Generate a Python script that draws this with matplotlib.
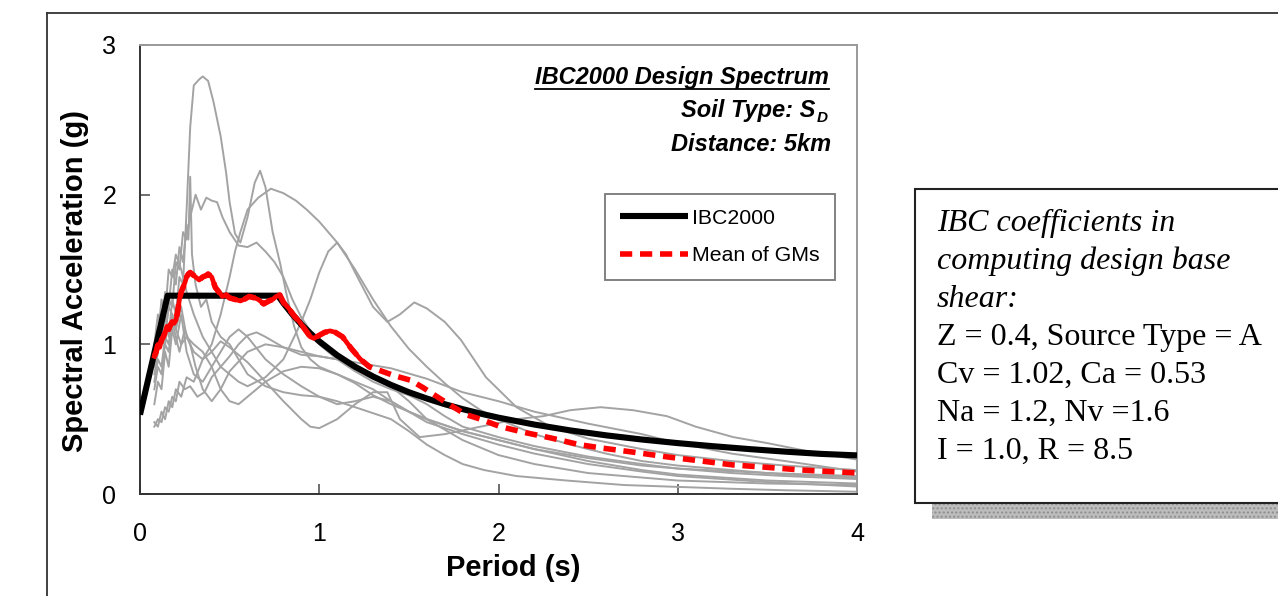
import matplotlib
matplotlib.use("Agg")
import matplotlib.pyplot as plt
from matplotlib.lines import Line2D
from matplotlib.patches import Rectangle

plt.rcParams['font.family'] = ['Liberation Sans', 'DejaVu Sans']

# ---------------- data ----------------
ibc_T = [0, 0.154, 0.77, 0.8, 0.85, 0.9, 0.95, 1.0, 1.1, 1.2, 1.3, 1.4, 1.5, 1.6, 1.7, 1.8,
         1.9, 2.0, 2.2, 2.4, 2.6, 2.8, 3.0, 3.2, 3.4, 3.6, 3.8, 4.0]
ibc_Sa = [0.53, 1.325, 1.325, 1.275, 1.20, 1.133, 1.074, 1.02, 0.927, 0.85, 0.785, 0.729, 0.68,
          0.638, 0.60, 0.567, 0.537, 0.51, 0.464, 0.425, 0.392, 0.364, 0.34, 0.319, 0.30, 0.283,
          0.268, 0.258]

mean_T = [0.08, 0.09, 0.10, 0.11, 0.12, 0.13, 0.14, 0.15, 0.16, 0.17, 0.18, 0.19, 0.20, 0.21,
          0.22, 0.23, 0.24, 0.25, 0.26, 0.27, 0.28, 0.30, 0.32, 0.33, 0.35, 0.37, 0.38, 0.40,
          0.42, 0.44, 0.46, 0.48, 0.50, 0.53, 0.56, 0.58, 0.61, 0.64, 0.66, 0.69, 0.72, 0.74,
          0.76, 0.78, 0.80, 0.83, 0.86, 0.89, 0.92, 0.95, 0.97, 1.00, 1.03, 1.06, 1.09, 1.13,
          1.18, 1.23, 1.28, 1.35, 1.42, 1.51, 1.58, 1.67, 1.75, 1.82, 1.90, 2.01, 2.15, 2.29,
          2.45, 2.57, 2.75, 2.94, 3.10, 3.31, 3.50, 3.68, 3.85, 4.0]
mean_Sa = [0.92, 0.95, 1.00, 0.98, 1.03, 1.05, 1.08, 1.12, 1.10, 1.13, 1.15, 1.14, 1.16, 1.22,
           1.30, 1.35, 1.38, 1.41, 1.45, 1.47, 1.48, 1.46, 1.44, 1.43, 1.45, 1.46, 1.47, 1.45,
           1.38, 1.35, 1.32, 1.33, 1.31, 1.30, 1.29, 1.30, 1.32, 1.31, 1.30, 1.27, 1.29, 1.30,
           1.32, 1.33, 1.28, 1.24, 1.19, 1.15, 1.10, 1.05, 1.04, 1.06, 1.08, 1.09, 1.08, 1.05,
           0.97, 0.90, 0.85, 0.82, 0.79, 0.76, 0.71, 0.64, 0.58, 0.53, 0.50, 0.45, 0.41, 0.375,
           0.33, 0.308, 0.28, 0.248, 0.225, 0.194, 0.178, 0.161, 0.150, 0.141]

gm1_T = [0.08, 0.1, 0.12, 0.14, 0.16, 0.18, 0.2, 0.22, 0.24, 0.26, 0.28, 0.30, 0.33, 0.35, 0.38,
         0.41, 0.45, 0.48, 0.5, 0.53, 0.56, 0.6, 0.64, 0.67, 0.70, 0.74, 0.78, 0.82, 0.86, 0.9,
         0.95, 1.0, 1.1, 1.2, 1.3, 1.4, 1.5, 1.6, 1.8, 2.0, 2.2, 2.5, 2.8, 3.0, 3.3, 3.6, 4.0]
gm1_Sa = [0.95, 1.1, 1.0, 1.2, 1.05, 1.3, 1.2, 1.45, 1.4, 1.9, 2.45, 2.73, 2.77, 2.79, 2.76,
          2.62, 2.39, 2.15, 1.95, 1.74, 1.68, 1.85, 2.08, 2.16, 2.05, 1.75, 1.55, 1.32, 1.12,
          0.98, 0.90, 0.85, 0.80, 0.74, 0.66, 0.60, 0.55, 0.50, 0.42, 0.36, 0.30, 0.24, 0.19,
          0.17, 0.14, 0.12, 0.10]

gm2_T = [0.08, 0.1, 0.12, 0.14, 0.16, 0.18, 0.2, 0.23, 0.26, 0.3, 0.35, 0.4, 0.45, 0.5, 0.53,
         0.56, 0.6, 0.66, 0.73, 0.8, 0.87, 0.93, 1.0, 1.1, 1.2, 1.3, 1.4, 1.5, 1.6, 1.7, 1.8,
         1.9, 2.0, 2.2, 2.4, 2.6, 2.8, 3.0, 3.3, 3.6, 4.0]
gm2_Sa = [0.75, 0.9, 0.85, 1.05, 1.0, 1.2, 1.1, 1.25, 1.05, 0.95, 0.9, 1.0, 1.2, 1.45, 1.62,
          1.75, 1.9, 1.98, 2.04, 2.01, 1.96, 1.9, 1.82, 1.68, 1.5, 1.3, 1.12, 0.97, 0.85, 0.74,
          0.64, 0.56, 0.50, 0.40, 0.33, 0.27, 0.22, 0.19, 0.16, 0.13, 0.11]

gm3_T = [0.08, 0.1, 0.12, 0.14, 0.16, 0.18, 0.2, 0.22, 0.24, 0.26, 0.28, 0.31, 0.34, 0.37, 0.4,
         0.43, 0.46, 0.5, 0.55, 0.6, 0.65, 0.7, 0.75, 0.8, 0.85, 0.9, 1.0, 1.1, 1.2, 1.3, 1.4,
         1.5, 1.6, 1.7, 1.8, 2.0, 2.2, 2.5, 2.8, 3.0, 3.5, 4.0]
gm3_Sa = [0.8, 0.95, 1.1, 1.0, 1.3, 1.25, 1.55, 1.5, 1.75, 1.7, 1.85, 2.0, 1.9, 1.98, 1.96,
          1.95, 1.85, 1.75, 1.66, 1.65, 1.68, 1.62, 1.55, 1.45, 1.3, 1.18, 1.0, 0.9, 0.82,
          0.75, 0.70, 0.66, 0.60, 0.52, 0.45, 0.38, 0.32, 0.25, 0.20, 0.17, 0.14, 0.12]

gm4_T = [0.08, 0.1, 0.12, 0.14, 0.16, 0.18, 0.2, 0.23, 0.26, 0.3, 0.35, 0.4, 0.45, 0.5, 0.6,
         0.7, 0.8, 0.9, 0.95, 1.0, 1.1, 1.2, 1.3, 1.38, 1.45, 1.56, 1.7, 1.9, 2.1, 2.25, 2.4,
         2.57, 2.75, 2.94, 3.1, 3.31, 3.5, 3.75, 4.0]
gm4_Sa = [0.48, 0.45, 0.55, 0.5, 0.62, 0.58, 0.7, 0.65, 0.78, 0.75, 0.9, 0.95, 1.02, 0.98,
          0.88, 0.75, 0.62, 0.50, 0.45, 0.44, 0.50, 0.60, 0.68, 0.68, 0.50, 0.38, 0.40, 0.45,
          0.50, 0.52, 0.56, 0.58, 0.56, 0.52, 0.45, 0.38, 0.34, 0.28, 0.23]

gm5_T = [0.08, 0.1, 0.12, 0.14, 0.16, 0.18, 0.2, 0.22, 0.25, 0.28, 0.32, 0.36, 0.4, 0.45, 0.5,
         0.55, 0.6, 0.65, 0.7, 0.8, 0.9, 1.0, 1.1, 1.2, 1.3, 1.4, 1.5, 1.6, 1.8, 2.0, 2.2, 2.5,
         3.0, 3.5, 4.0]
gm5_Sa = [0.45, 0.5, 0.48, 0.58, 0.55, 0.65, 0.62, 0.75, 0.7, 0.72, 0.65, 0.68, 0.78, 0.85,
          0.92, 1.0, 1.06, 1.08, 1.05, 0.98, 0.93, 0.92, 0.90, 0.86, 0.80, 0.72, 0.62, 0.50,
          0.36, 0.26, 0.20, 0.14, 0.09, 0.07, 0.06]

gm6_T = [0.08, 0.1, 0.12, 0.14, 0.16, 0.18, 0.2, 0.23, 0.26, 0.3, 0.35, 0.4, 0.45, 0.5, 0.55,
         0.6, 0.7, 0.8, 0.9, 0.95, 1.0, 1.05, 1.1, 1.15, 1.2, 1.3, 1.38, 1.45, 1.53, 1.6, 1.7,
         1.79, 1.93, 2.1, 2.29, 2.5, 2.8, 3.0, 3.3, 3.6, 4.0]
gm6_Sa = [0.9, 1.05, 1.3, 1.2, 1.5, 1.45, 1.6, 1.5, 1.35, 1.2, 1.05, 0.95, 0.85, 0.8, 0.75,
          0.72, 0.78, 0.9, 1.15, 1.3, 1.48, 1.62, 1.68, 1.6, 1.48, 1.25, 1.15, 1.2, 1.28, 1.24,
          1.15, 1.03, 0.78, 0.58, 0.45, 0.37, 0.30, 0.26, 0.22, 0.19, 0.16]

gm7_T = [0.08, 0.1, 0.12, 0.14, 0.16, 0.18, 0.2, 0.22, 0.24, 0.26, 0.27, 0.28, 0.29, 0.31, 0.34,
         0.37, 0.4, 0.45, 0.5, 0.55, 0.6, 0.7, 0.8, 0.9, 1.0, 1.1, 1.2, 1.3, 1.4, 1.5, 1.6, 1.7,
         1.8, 1.92, 2.1, 2.38, 2.7, 2.94, 3.3, 3.6, 4.0]
gm7_Sa = [1.0, 1.2, 1.1, 1.35, 1.25, 1.5, 1.4, 1.65, 1.55, 1.8, 1.7, 2.12, 1.6, 1.4, 1.25, 1.3,
          1.15, 1.05, 1.0, 0.9, 0.8, 0.72, 0.68, 0.66, 0.65, 0.62, 0.58, 0.54, 0.50, 0.42,
          0.33, 0.26, 0.20, 0.16, 0.12, 0.09, 0.06, 0.05, 0.035, 0.025, 0.015]

gm8_T = [0.08, 0.1, 0.12, 0.14, 0.16, 0.18, 0.2, 0.22, 0.25, 0.28, 0.31, 0.35, 0.4, 0.45, 0.5,
         0.6, 0.7, 0.8, 0.9, 1.0, 1.1, 1.2, 1.3, 1.4, 1.6, 1.8, 2.0, 2.2, 2.5, 2.8, 3.0, 3.3,
         3.6, 4.0]
gm8_Sa = [0.7, 0.85, 0.8, 1.0, 0.95, 1.15, 1.05, 0.95, 1.1, 1.0, 0.85, 0.7, 0.62, 0.7, 0.82,
          0.95, 1.0, 0.98, 0.95, 0.92, 0.9, 0.88, 0.86, 0.84, 0.77, 0.68, 0.62, 0.55, 0.47,
          0.40, 0.34, 0.27, 0.22, 0.15]

gm9_T = [0.08, 0.1, 0.12, 0.14, 0.16, 0.18, 0.2, 0.23, 0.26, 0.3, 0.35, 0.4, 0.45, 0.5, 0.55,
         0.6, 0.7, 0.8, 0.9, 1.0, 1.1, 1.2, 1.3, 1.4, 1.5, 1.6, 1.8, 2.0, 2.2, 2.5, 2.8, 3.0,
         3.5, 4.0]
gm9_Sa = [0.85, 0.95, 1.15, 1.05, 1.25, 1.2, 1.1, 1.0, 1.05, 1.0, 0.95, 0.85, 0.7, 0.62, 0.6,
          0.65, 0.75, 0.82, 0.85, 0.84, 0.8, 0.75, 0.7, 0.62, 0.55, 0.48, 0.40, 0.33, 0.27,
          0.20, 0.15, 0.12, 0.08, 0.05]

gm10_T = [0.08, 0.1, 0.12, 0.14, 0.16, 0.18, 0.2, 0.23, 0.26, 0.3, 0.35, 0.4, 0.45, 0.5, 0.55,
          0.6, 0.7, 0.8, 0.9, 1.0, 1.1, 1.2, 1.3, 1.4, 1.5, 1.6, 1.8, 2.0, 2.2, 2.5, 2.8, 3.0,
          3.5, 4.0]
gm10_Sa = [0.6, 0.75, 0.7, 0.95, 0.85, 1.1, 1.0, 1.2, 0.95, 0.8, 0.75, 0.85, 0.95, 1.05, 1.1,
           1.05, 0.9, 0.8, 0.72, 0.65, 0.6, 0.62, 0.65, 0.62, 0.55, 0.50, 0.42, 0.36, 0.30,
           0.22, 0.16, 0.13, 0.09, 0.07]

gm_series = [(gm1_T, gm1_Sa), (gm2_T, gm2_Sa), (gm3_T, gm3_Sa), (gm4_T, gm4_Sa),
             (gm5_T, gm5_Sa), (gm6_T, gm6_Sa), (gm7_T, gm7_Sa), (gm8_T, gm8_Sa),
             (gm9_T, gm9_Sa), (gm10_T, gm10_Sa)]

x_ticks = [0, 1, 2, 3, 4]
y_ticks = [0, 1, 2, 3]
x_label = "Period (s)"
y_label = "Spectral Acceleration (g)"
legend_labels = ["IBC2000", "Mean of GMs"]
note_lines_italic = ["IBC coefficients in", "computing design base", "shear:"]
note_lines = ["Z = 0.4, Source Type = A", "Cv = 1.02, Ca = 0.53",
              "Na = 1.2, Nv =1.6", "I = 1.0, R = 8.5"]

# ---------------- figure ----------------
W, H = 1278, 596
fig = plt.figure(figsize=(W / 100, H / 100), dpi=100)

def fx(px):
    return px / W

def fy(py):
    return 1 - py / H

ax = fig.add_axes([fx(140), fy(494), fx(857) - fx(140), fy(45) - fy(494)])

for T, Sa in gm_series:
    ax.plot(T, Sa, color='#a3a3a3', lw=1.4, zorder=2)

l_ibc, = ax.plot(ibc_T, ibc_Sa, color='black', lw=4.4, solid_joinstyle='round',
                 solid_capstyle='butt', zorder=3)
l_mean, = ax.plot(mean_T, mean_Sa, color='#ff0000', lw=4.0, dashes=(2.2, 1.4), zorder=4)
# dense jagged short-period portion appears continuous
n_solid = 59
ax.plot(mean_T[:n_solid], mean_Sa[:n_solid], color='#ff0000', lw=3.4, zorder=4)

ax.set_xlim(0, 4)
ax.set_ylim(0, 3)
ax.set_xticks(x_ticks)
ax.set_yticks(y_ticks)
ax.set_xticklabels([str(v) for v in x_ticks])
ax.set_yticklabels([str(v) for v in y_ticks])
ax.tick_params(axis='x', direction='in', length=7, width=1.2, color='#555555',
               labelsize=18, pad=20)
ax.tick_params(axis='y', direction='in', length=7, width=1.2, color='#555555',
               labelsize=18, pad=17)

for side in ['left', 'bottom']:
    ax.spines[side].set_color('#333333')
    ax.spines[side].set_linewidth(1.4)
for side in ['top', 'right']:
    ax.spines[side].set_color('#9a9a9a')
    ax.spines[side].set_linewidth(1.4)

ax.set_xlabel(x_label, fontsize=21, fontweight='bold')
ax.xaxis.set_label_coords((513 - 140) / 717, (494 - 568) / 449)
ax.xaxis.label.set_va('center')
ax.set_ylabel(y_label, fontsize=21, fontweight='bold')
ax.yaxis.set_label_coords((75 - 140) / 717, (494 - 281) / 449)
ax.yaxis.label.set_va('center')

leg = ax.legend([l_ibc, l_mean], legend_labels, loc='upper left',
                bbox_to_anchor=((605 - 140) / 717, (494 - 194) / 449),
                frameon=True, fancybox=False, fontsize=15.3, handlelength=3.2,
                handletextpad=0.2, borderpad=0.7, labelspacing=0.85,
                borderaxespad=0)
leg.get_frame().set_edgecolor('#555555')
leg.get_frame().set_linewidth(1.3)
leg.get_frame().set_facecolor('white')

# annotation lines
fig.text(fx(829), fy(84), "IBC2000 Design Spectrum", ha='right', va='baseline',
         fontsize=17, fontweight='bold', fontstyle='italic')
fig.add_artist(Line2D([fx(535), fx(829)], [fy(89.5), fy(89.5)], color='black', lw=1.3))
fig.text(fx(815), fy(117), "Soil Type: S", ha='right', va='baseline',
         fontsize=17, fontweight='bold', fontstyle='italic')
fig.text(fx(817), fy(122), "D", ha='left', va='baseline',
         fontsize=11, fontweight='bold', fontstyle='italic')
fig.text(fx(831), fy(151), "Distance: 5km", ha='right', va='baseline',
         fontsize=17, fontweight='bold', fontstyle='italic')

# outer chart frame
fig.add_artist(Line2D([fx(47), fx(1290)], [fy(13), fy(13)], color='#333333', lw=1.3))
fig.add_artist(Line2D([fx(47), fx(47)], [fy(13), fy(600)], color='#333333', lw=1.3))

# note box with shadow
fig.add_artist(Rectangle((fx(932), fy(519)), fx(1290) - fx(932), fy(503) - fy(519),
                         transform=fig.transFigure, facecolor='#bdbdbd',
                         edgecolor='#8f8f8f', hatch='....', lw=0))
fig.add_artist(Rectangle((fx(915), fy(503)), fx(1300) - fx(915), fy(189) - fy(503),
                         transform=fig.transFigure, facecolor='white',
                         edgecolor='#222222', lw=1.5))

base = 231
step = 38
for i, s in enumerate(note_lines_italic):
    fig.text(fx(937), fy(base + i * step), s, ha='left', va='baseline',
             family=['Liberation Serif', 'DejaVu Serif'], fontstyle='italic', fontsize=23)
for j, s in enumerate(note_lines):
    fig.text(fx(937), fy(base + (j + 3) * step), s, ha='left', va='baseline',
             family=['Liberation Serif', 'DejaVu Serif'], fontsize=23)

fig.savefig("out.png", dpi=100)
